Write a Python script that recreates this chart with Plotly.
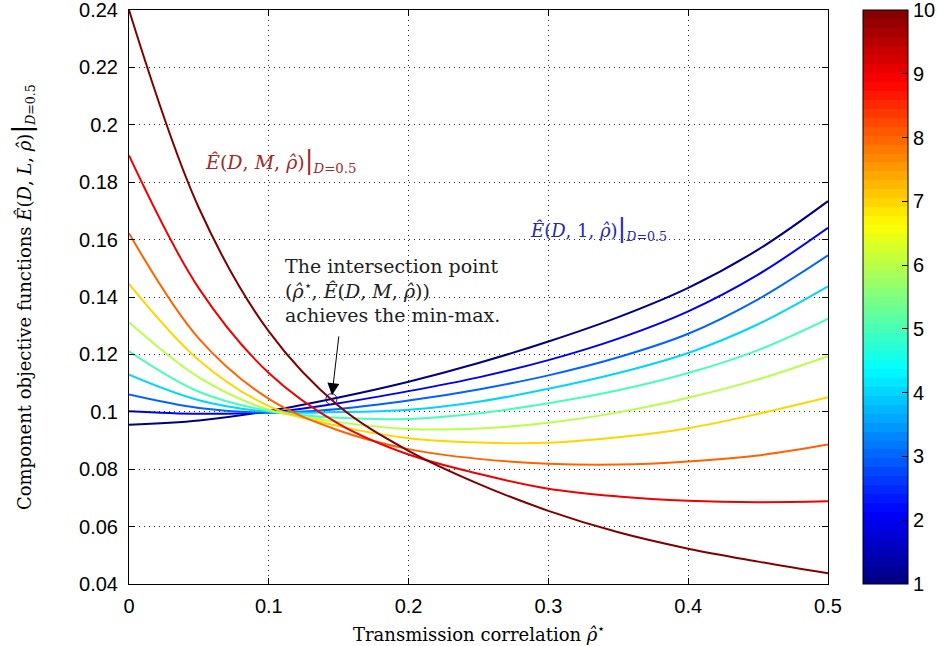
import plotly.graph_objects as go

# ---------------- data ----------------
rho = [0.0, 0.05, 0.10, 0.15, 0.20, 0.25, 0.30, 0.35, 0.40, 0.45, 0.50]
L_values = [1, 2, 3, 4, 5, 6, 7, 8, 9, 10]

E_L1 = [0.0955, 0.0970, 0.1003, 0.1050, 0.1105, 0.1170, 0.1245, 0.1330, 0.1432, 0.1565, 0.1734]
E_L2 = [0.1002, 0.0993, 0.0998, 0.1030, 0.1072, 0.1120, 0.1180, 0.1255, 0.1350, 0.1478, 0.1641]
E_L3 = [0.1060, 0.1013, 0.0997, 0.1010, 0.1039, 0.1078, 0.1127, 0.1190, 0.1272, 0.1392, 0.1545]
E_L4 = [0.1129, 0.1040, 0.1000, 0.0999, 0.1007, 0.1035, 0.1080, 0.1135, 0.1205, 0.1305, 0.1437]
E_L5 = [0.1211, 0.1070, 0.1003, 0.0979, 0.0975, 0.0995, 0.1030, 0.1075, 0.1135, 0.1215, 0.1324]
E_L6 = [0.1312, 0.1120, 0.1007, 0.0964, 0.0940, 0.0942, 0.0962, 0.0998, 0.1049, 0.1113, 0.1194]
E_L7 = [0.1446, 0.1180, 0.1020, 0.0950, 0.0908, 0.0893, 0.0892, 0.0911, 0.0943, 0.0993, 0.1051]
E_L8 = [0.1622, 0.1255, 0.1045, 0.0935, 0.0870, 0.0836, 0.0819, 0.0816, 0.0827, 0.0848, 0.0886]
E_L9 = [0.1893, 0.1430, 0.1135, 0.0958, 0.0851, 0.0784, 0.0732, 0.0705, 0.0690, 0.0685, 0.0688]
E_L10 = [0.2400, 0.1710, 0.1280, 0.1020, 0.0864, 0.0749, 0.0655, 0.0580, 0.0523, 0.0478, 0.0437]

intersection_rho = [0.1448]
intersection_E = [0.1044]

x_ticks = [0, 0.1, 0.2, 0.3, 0.4, 0.5]
x_ticklabels = ["0", "0.1", "0.2", "0.3", "0.4", "0.5"]
y_ticks = [0.04, 0.06, 0.08, 0.10, 0.12, 0.14, 0.16, 0.18, 0.20, 0.22, 0.24]
y_ticklabels = ["0.04", "0.06", "0.08", "0.1", "0.12", "0.14", "0.16", "0.18", "0.2", "0.22", "0.24"]
cbar_ticks = [1, 2, 3, 4, 5, 6, 7, 8, 9, 10]

series = [E_L1, E_L2, E_L3, E_L4, E_L5, E_L6, E_L7, E_L8, E_L9, E_L10]


# ---------------- styling helpers ----------------
def jet(t):
    def c(v):
        return max(0.0, min(1.0, v))
    r = c(1.5 - abs(4 * t - 3))
    g = c(1.5 - abs(4 * t - 2))
    b = c(1.5 - abs(4 * t - 1))
    return "rgb(%d,%d,%d)" % (round(r * 255), round(g * 255), round(b * 255))


n_bands = 64
jet_scale = []
for i in range(n_bands):
    col = jet((i + 0.5) / n_bands)
    jet_scale.append([i / n_bands, col])
    jet_scale.append([(i + 1) / n_bands, col])

SANS = "Liberation Sans, Arial, Helvetica, sans-serif"
SERIF = "DejaVu Serif, Liberation Serif, serif"

RHO_HAT = "<i>ρ̂</i>"
BAR = "<span style='font-size:26px'>|</span>"

fig = go.Figure()

Lmin, Lmax = min(L_values), max(L_values)
for L, vals in zip(L_values, series):
    fig.add_trace(go.Scatter(
        x=rho, y=vals, mode="lines",
        line=dict(color=jet((L - Lmin) / (Lmax - Lmin)), width=2, shape="spline", smoothing=1.0),
        showlegend=False, hoverinfo="skip"))

# intersection marker
fig.add_trace(go.Scatter(
    x=intersection_rho, y=intersection_E, mode="markers",
    marker=dict(symbol="circle-open", size=11, color="rgb(20,20,140)", line=dict(width=1)),
    showlegend=False, hoverinfo="skip"))

# colorbar carrier
fig.add_trace(go.Scatter(
    x=[None], y=[None], mode="markers",
    marker=dict(color=[Lmin, Lmax], cmin=Lmin, cmax=Lmax, colorscale=jet_scale, showscale=True,
                colorbar=dict(
                    x=1.05, xanchor="left", y=0.5, yanchor="middle",
                    len=1.0, lenmode="fraction", thickness=45, thicknessmode="pixels",
                    outlinecolor="black", outlinewidth=1,
                    title=dict(text="", side="right"),
                    tickvals=cbar_ticks, ticktext=[str(v) for v in cbar_ticks],
                    ticks="inside", ticklen=6, tickcolor="black",
                    ticklabeloverflow="allow",
                    tickfont=dict(family=SANS, size=20, color="black"),
                    xpad=0, ypad=0)),
    showlegend=False, hoverinfo="skip"))

axis_common = dict(
    showline=True, linecolor="black", linewidth=1, mirror="ticks",
    ticks="inside", ticklen=6, tickcolor="black", automargin=False,
    ticklabeloverflow="allow",
    showgrid=True, gridcolor="rgba(0,0,0,0.85)", gridwidth=1, griddash="1px,4px",
    zeroline=False, tickfont=dict(family=SANS, size=20, color="black"))

fig.update_xaxes(range=[0, 0.5], tickvals=x_ticks, ticktext=x_ticklabels,
                 ticklabelstandoff=4, **axis_common)
fig.update_yaxes(range=[0.04, 0.24], tickvals=y_ticks, ticktext=y_ticklabels,
                 ticklabelstandoff=6, **axis_common)

annotations = [
    # red label
    dict(x=0.053, y=0.1876, xref="x", yref="y", xanchor="left", yanchor="middle",
         text="<i>Ê</i>(<i>D</i>, <i>M</i>, " + RHO_HAT + ")" + BAR + "<sub><i>D</i>=0.5</sub>",
         showarrow=False, font=dict(family=SERIF, size=19, color="rgb(165,40,40)")),
    # blue label
    dict(x=0.2854, y=0.1639, xref="x", yref="y", xanchor="left", yanchor="middle",
         text="<i>Ê</i>(<i>D</i>, 1, " + RHO_HAT + ")" + BAR + "<sub><i>D</i>=0.5</sub>",
         showarrow=False, font=dict(family=SERIF, size=18, color="rgb(40,40,170)")),
    # black explanation
    dict(x=0.110, y=0.1422, xref="x", yref="y", xanchor="left", yanchor="middle", align="left",
         text="The intersection point<br>(" + RHO_HAT + "<sup>⋆</sup>, <i>Ê</i>(<i>D</i>, <i>M</i>, "
              + RHO_HAT + "))<br>achieves the min-max.",
         showarrow=False, font=dict(family=SERIF, size=19, color="rgb(30,30,30)")),
    # arrow
    dict(x=0.1452, y=0.1058, xref="x", yref="y", ax=0.1502, ay=0.1268, axref="x", ayref="y",
         text="", showarrow=True, arrowhead=2, arrowsize=2.4, arrowwidth=1, arrowcolor="black"),
    # axis titles
    dict(x=0.5, y=-0.085, xref="paper", yref="paper", xanchor="center", yanchor="middle",
         text="Transmission correlation " + RHO_HAT + "<sup>⋆</sup>", showarrow=False,
         font=dict(family=SERIF, size=18, color="black")),
    dict(x=-0.153, y=0.5, xref="paper", yref="paper", xanchor="center", yanchor="middle",
         textangle=-90,
         text="Component objective functions <i>Ê</i>(<i>D</i>, <i>L</i>, " + RHO_HAT + ")" + BAR
              + "<sub><i>D</i>=0.5</sub>",
         showarrow=False, font=dict(family=SERIF, size=18, color="black")),
]

fig.update_layout(
    width=939, height=646,
    margin=dict(l=129, r=111, t=10, b=62, autoexpand=False),
    plot_bgcolor="white", paper_bgcolor="white",
    annotations=annotations,
    showlegend=False)

fig.write_html("out.html",
               config={"displayModeBar": False},
               post_script="document.body.style.margin='0';document.body.style.overflow='hidden';")
